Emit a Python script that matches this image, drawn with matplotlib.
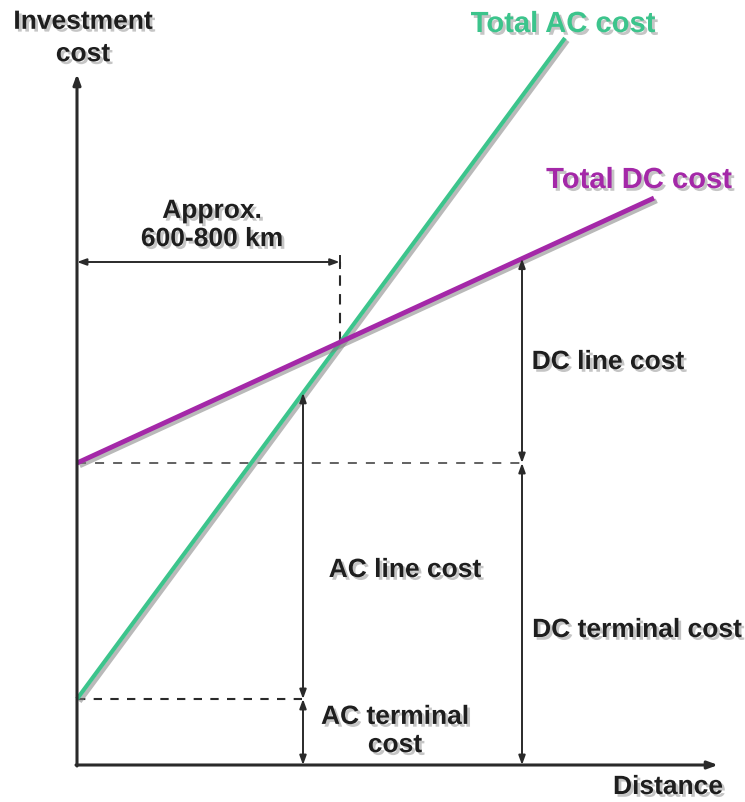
import numpy as np
import matplotlib.pyplot as plt
import matplotlib.patheffects as pe

# cost model, arbitrary units (distance along x, cost along y)
ac_dist = [0, 488]
ac_cost = [66, 727]
dc_dist = [0, 577]
dc_cost = [302, 567]

ac_mark = 226   # where the AC cost brackets are drawn
dc_mark = 445   # where the DC cost brackets are drawn
span_y = 503    # height of the "approx. distance" bracket

green = '#3cc48c'
purple = '#a428a8'
dark = '#2a2a2a'

plt.rcParams['font.family'] = ['Liberation Sans', 'DejaVu Sans']

fig = plt.figure(figsize=(7.45, 8.03), dpi=100)
ax = fig.add_axes([0, 0, 1, 1])
ax.set_xlim(-77, 668)
ax.set_ylim(-37, 766)
ax.axis('off')

line_fx = [pe.SimpleLineShadow(offset=(2, -2), shadow_color='gray', alpha=0.55), pe.Normal()]
text_fx = [pe.withSimplePatchShadow(offset=(2, -2), shadow_rgbFace='gray', alpha=0.45)]

# intersection of the two lines
ac_k = (ac_cost[1] - ac_cost[0]) / (ac_dist[1] - ac_dist[0])
dc_k = (dc_cost[1] - dc_cost[0]) / (dc_dist[1] - dc_dist[0])
x_cross = (dc_cost[0] - ac_cost[0]) / (ac_k - dc_k)
y_cross = ac_cost[0] + ac_k * x_cross

# axes with arrow heads
ax_arr = dict(arrowstyle='-|>,head_length=0.6,head_width=0.22', color=dark, lw=2.2, shrinkA=0, shrinkB=0)
ax.annotate('', xy=(0, 691), xytext=(0, -1), arrowprops=ax_arr)
ax.annotate('', xy=(641, 0), xytext=(-1, 0), arrowprops=ax_arr)

# dashed guides
ax.plot([0, ac_mark], [ac_cost[0], ac_cost[0]], ls=(0, (4, 4)), color=dark, lw=1.5)
ax.plot([0, dc_mark], [dc_cost[0], dc_cost[0]], ls=(0, (5, 5)), color='#555555', lw=1.3)
ax.plot([x_cross - 1, x_cross - 1], [y_cross, span_y], ls=(0, (5, 4)), color=dark, lw=1.5)

# the cost lines
ax.plot(ac_dist, ac_cost, color=green, lw=3, solid_capstyle='butt', path_effects=line_fx)
ax.plot(dc_dist, dc_cost, color=purple, lw=3.5, solid_capstyle='butt', path_effects=line_fx)

arr = dict(arrowstyle='<|-|>,head_length=0.55,head_width=0.2', color=dark, lw=1.4, shrinkA=0, shrinkB=0)
# approx crossover distance
ax.annotate('', xy=(x_cross - 1, span_y), xytext=(0, span_y), arrowprops=arr)
ax.plot([x_cross - 1, x_cross - 1], [span_y - 6, span_y + 6], color=dark, lw=1.4)

# AC brackets
ac_at_mark = ac_cost[0] + ac_k * ac_mark
ax.annotate('', xy=(ac_mark, ac_at_mark), xytext=(ac_mark, ac_cost[0]), arrowprops=arr)
ax.annotate('', xy=(ac_mark, ac_cost[0]), xytext=(ac_mark, 0), arrowprops=arr)

# DC brackets
dc_at_mark = dc_cost[0] + dc_k * dc_mark
ax.annotate('', xy=(dc_mark, dc_at_mark), xytext=(dc_mark, dc_cost[0]), arrowprops=arr)
ax.annotate('', xy=(dc_mark, dc_cost[0]), xytext=(dc_mark, 0), arrowprops=arr)

tk = dict(ha='center', va='center', fontsize=19, fontweight='bold', color='#1e1e1e', path_effects=text_fx)
ax.text(6, 727, 'Investment\ncost', linespacing=1.44, **tk)
ax.text(135, 540, 'Approx.\n600-800 km', linespacing=1.22, **tk)
ax.text(531, 403, 'DC line cost', **tk)
ax.text(328, 195, 'AC line cost', **tk)
ax.text(560, 135, 'DC terminal cost', **tk)
ax.text(318, 34, 'AC terminal\ncost', linespacing=1.22, **tk)
ax.text(591, -22, 'Distance', **tk)

tk_ac = dict(tk, color=green, fontsize=21)
tk_dc = dict(tk, color=purple, fontsize=21)
ax.text(486, 741, 'Total AC cost', **tk_ac)
ax.text(562, 585, 'Total DC cost', **tk_dc)

fig.savefig('out.png', dpi=100, facecolor='white')
